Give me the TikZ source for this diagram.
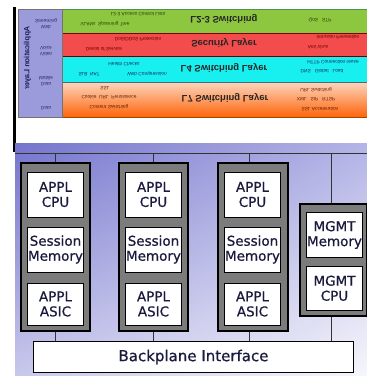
\documentclass[tikz,border=0pt]{standalone}
\usepackage{fontspec}
\setmainfont{DejaVu Sans}
\newfontfamily\lsans{Liberation Sans}
\newfontface\cellfont{DejaVu Sans}[FakeBold=0.7]
\usepackage{graphicx}
\usetikzlibrary{shadings}
\newcommand{\fliptxt}[1]{\scalebox{1}[-1]{#1}}
\definecolor{lav}{RGB}{155,155,219}
\definecolor{grn}{RGB}{141,198,63}
\definecolor{rd}{RGB}{242,76,76}
\definecolor{cyn}{RGB}{24,240,240}
\definecolor{peach}{RGB}{252,214,190}
\definecolor{orng}{RGB}{255,100,10}
\definecolor{bgA}{RGB}{116,116,205}
\definecolor{bgB}{RGB}{180,180,230}
\definecolor{bgC}{RGB}{200,200,236}
\definecolor{bgD}{RGB}{246,246,252}
\definecolor{boardgray}{RGB}{124,124,124}
\definecolor{navytxt}{RGB}{26,26,62}
\begin{document}
\begin{tikzpicture}[x=1pt,y=-1pt,
  board/.style={draw=black,line width=1.3pt,fill=boardgray,inner sep=0pt},
  cell/.style={draw=black,line width=1pt,fill=white,inner sep=0pt,minimum width=56pt,align=center,text=navytxt,font=\cellfont\fontsize{13.5}{15}\selectfont},
  bigl/.style={inner sep=0pt,font=\lsans\bfseries\fontsize{9.5}{10}\selectfont,text=black!85},
  smallt/.style={inner sep=0pt,font=\lsans\fontsize{4.8}{5}\selectfont},
  conn/.style={draw=black!80,line width=0.9pt}]
\useasboundingbox (0,0) rectangle (367,376);
% ---------- top: layer table (printed upside down) ----------
\fill[black] (13,7) rectangle (16,152);
\fill[lav] (18,9) rectangle (62,117);
\fill[grn] (62,9) rectangle (367,33);
\fill[rd] (62,33) rectangle (367,56);
\fill[cyn] (62,56) rectangle (367,82);
\shade[top color=peach,bottom color=orng] (62,82) rectangle (367,117);
\draw[green!40!black!70,line width=0.6pt] (62,9.3) -- (367,9.3);
\draw[red!50!black,line width=0.6pt] (62,33) -- (367,33);
\draw[red!40!black,line width=0.6pt] (62,56) -- (367,56);
\draw[cyan!40!black,line width=0.6pt] (62,82) -- (367,82);
\draw[orange!60!black,line width=1pt] (62,117) -- (367,117);
\draw[black!55,line width=0.6pt] (18,9) rectangle (62,117);
\node[bigl] (l23) at (224,19) {\fliptxt{L2-3 Switching}};
\node[bigl] (sec) at (224,43) {\fliptxt{Security Layer}};
\node[bigl] (l4) at (224,68) {\fliptxt{L4 Switching Layer}};
\node[bigl] (l7) at (225,98) {\fliptxt{L7 Switching Layer}};
\node[inner sep=0pt,rotate=-90,font=\lsans\bfseries\fontsize{7.5}{8}\selectfont,text={rgb,255:red,30;green,30;blue,90}] (app) at (27.5,58) {\fliptxt{Application Layer}};
% left column small texts
\begin{scope}[every node/.style={smallt,text={rgb,255:red,40;green,40;blue,90}}]
\node (c1a) at (46,21) {\fliptxt{Streaming}};
\node (c1b) at (46,27) {\fliptxt{Web}};
\node (c2a) at (46,48) {\fliptxt{Voice}};
\node (c2b) at (46,54) {\fliptxt{Video}};
\node (c3a) at (46,78) {\fliptxt{Mobile}};
\node (c3b) at (46,84) {\fliptxt{Data}};
\node (c4a) at (46,108) {\fliptxt{Data}};
\end{scope}
\begin{scope}[every node/.style={smallt,text={rgb,255:red,40;green,60;blue,10}}]
\node (g1) at (138,14) {\fliptxt{L2-3 Access Control Lists}};
\node (g2) at (105,24) {\fliptxt{VLANs\ \ Spanning Tree}};
\node (g3) at (320,20) {\fliptxt{QoS\ \ \ STP}};
\end{scope}
\begin{scope}[every node/.style={smallt,text={rgb,255:red,110;green,0;blue,0}}]
\node (r1) at (138,39) {\fliptxt{DoS/DDoS Protection}};
\node (r2) at (104,49) {\fliptxt{Denial of Service}};
\node (r3) at (338,37) {\fliptxt{Intrusion Prevention}};
\node (r4) at (318,47) {\fliptxt{Anti Virus}};
\end{scope}
\begin{scope}[every node/.style={smallt,text={rgb,255:red,20;green,40;blue,100}}]
\node (y1) at (124,64) {\fliptxt{Health Checks}};
\node (y2) at (89,74) {\fliptxt{SLB\ \ NAT}};
\node (y3) at (147,74) {\fliptxt{Web Compression}};
\node (y4) at (333,62) {\fliptxt{HTTP Connection reuse}};
\node (y5) at (322,71) {\fliptxt{DNS\ \ \ Global\ \ \ Load}};
\end{scope}
\begin{scope}[every node/.style={smallt,text={rgb,255:red,100;green,30;blue,0}}]
\node (o1) at (105,88) {\fliptxt{SSL}};
\node (o2) at (109,97) {\fliptxt{Cookie\ \ URL\ \ Persistence}};
\node (o3) at (109,107) {\fliptxt{Content Switching}};
\node (o4) at (316,90) {\fliptxt{URL Switching}};
\node (o5) at (316,99) {\fliptxt{XML\ \ \ SIP\ \ \ RTSP}};
\node (o6) at (320,109) {\fliptxt{SSL Acceleration}};
\end{scope}
% ---------- bottom: chassis ----------
\shade[upper left=bgA,upper right=bgB,lower left=bgC,lower right=bgD] (15,143) rectangle (367,376);
\coordinate (busL) at (15,153);
\coordinate (busR) at (367,153);
\draw[conn] (busL) -- (busR);
\node[board,minimum width=69pt,minimum height=168pt] (b1) at (55.5,247) {};
\node[board,minimum width=69pt,minimum height=168pt] (b2) at (153.5,247) {};
\node[board,minimum width=70pt,minimum height=168pt] (b3) at (253,247) {};
\node[board,minimum width=66.5pt,minimum height=112pt] (b4) at (333.25,260) {};
\node[draw=black,line width=1pt,fill=white,minimum width=320pt,minimum height=31pt,inner sep=0pt,text=navytxt,font=\cellfont\fontsize{15}{16}\selectfont] (bp) at (193.5,357) {Backplane Interface};
% cells
\foreach \n/\cx in {1/55.5,2/153.5,3/252.5}{
  \node[cell,minimum height=45pt] (cpu\n) at (\cx,194.5) {APPL\\CPU};
  \node[cell,minimum height=45pt] (mem\n) at (\cx,249.5) {Session\\Memory};
  \node[cell,minimum height=42pt] (asic\n) at (\cx,304) {APPL\\ASIC};
}
\node[cell,minimum height=45pt] (mmem) at (334.5,235) {MGMT\\Memory};
\node[cell,minimum height=44.5pt] (mcpu) at (334.5,288.25) {MGMT\\CPU};
% connectors
\draw[conn] (b1.north) -- (b1.north |- busL);
\draw[conn] (b2.north) -- (b2.north |- busL);
\draw[conn] ([xshift=-4pt]b3.north) -- ([xshift=-4pt]b3.north |- busL);
\draw[conn] ([xshift=-1.5pt]b4.north) -- ([xshift=-1.5pt]b4.north |- busL);
\draw[conn] (b1.south) -- (b1.south |- bp.north);
\draw[conn] (b2.south) -- (b2.south |- bp.north);
\draw[conn] ([xshift=-4pt]b3.south) -- ([xshift=-4pt]b3.south |- bp.north);
\draw[conn] ([xshift=-1.5pt]b4.south) -- ([xshift=-1.5pt]b4.south |- bp.north);
\end{tikzpicture}
\end{document}
